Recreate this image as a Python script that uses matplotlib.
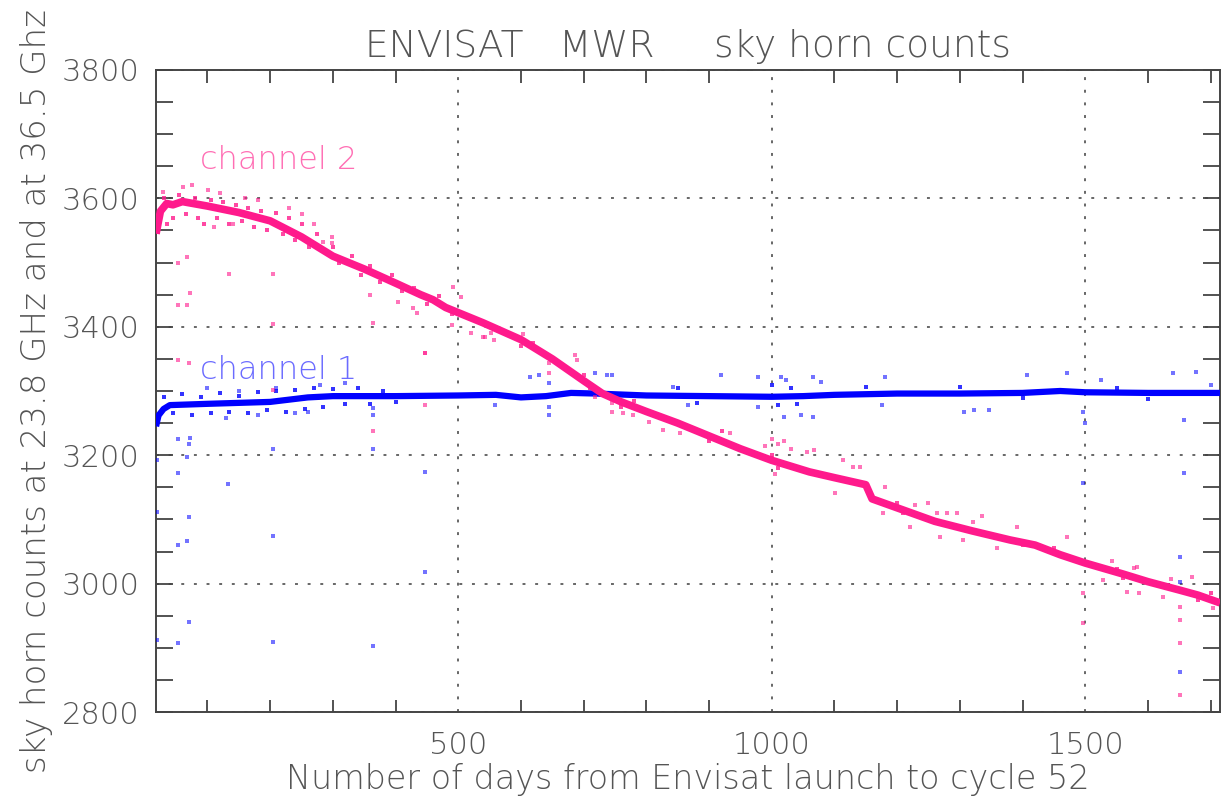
import matplotlib
matplotlib.use("Agg")
import matplotlib.pyplot as plt
import numpy as np

# channel 2 (36.5 GHz) main trace
ch2_days = [18, 25, 35, 45, 60, 100, 150, 200, 250, 300, 350, 400, 440, 460, 480,
            540, 600, 650, 700, 730, 760, 800, 850, 900, 950, 1000, 1060, 1100,
            1150, 1160, 1200, 1260, 1320, 1380, 1420, 1460, 1500, 1560, 1600,
            1650, 1680, 1715]
ch2_vals = [3545, 3580, 3592, 3590, 3595, 3588, 3578, 3565, 3540, 3510, 3490, 3468,
            3450, 3442, 3430, 3406, 3380, 3350, 3316, 3296, 3283, 3268, 3250, 3230,
            3210, 3192, 3174, 3165, 3154, 3132, 3118, 3097, 3082, 3068, 3060, 3045,
            3032, 3015, 3003, 2990, 2982, 2970]

# channel 1 (23.8 GHz) main trace
ch1_days = [18, 22, 30, 40, 100, 200, 260, 300, 400, 500, 560, 600, 640, 680, 720,
            800, 900, 1000, 1050, 1100, 1200, 1300, 1400, 1460, 1500, 1600, 1715]
ch1_vals = [3245, 3262, 3272, 3278, 3280, 3283, 3290, 3292, 3292, 3293, 3294, 3290,
            3292, 3297, 3296, 3293, 3292, 3291, 3292, 3294, 3296, 3296, 3297, 3300,
            3298, 3297, 3297]

# spread of points close to the traces
ch2_fuzz_days = [30, 35, 45, 55, 65, 80, 85, 95, 105, 115, 125, 135, 145, 155, 165, 175,
                 185, 195, 210, 220, 230, 240, 250, 262, 275, 285, 300, 310, 330, 345,
                 360, 375, 395, 410, 430, 450, 470, 490, 600, 620, 700, 710, 760, 780,
                 900, 920, 1000, 1010, 1200, 1210, 1400, 1450, 1550, 1560, 1680, 1700]
ch2_fuzz_vals = [3600, 3560, 3570, 3605, 3575, 3600, 3570, 3560, 3598, 3570, 3595, 3560,
                 3590, 3565, 3585, 3555, 3580, 3550, 3578, 3545, 3570, 3535, 3560, 3525,
                 3545, 3520, 3525, 3500, 3510, 3480, 3495, 3470, 3480, 3455, 3460, 3435,
                 3448, 3420, 3370, 3375, 3325, 3305, 3275, 3285, 3222, 3238, 3200, 3180,
                 3125, 3110, 3060, 3055, 3022, 3008, 2975, 2985]
ch1_fuzz_days = [30, 45, 60, 75, 90, 105, 120, 135, 150, 165, 180, 195, 210, 225, 240,
                 255, 270, 285, 300, 320, 340, 360, 380, 400, 850, 880, 1000, 1010, 1030,
                 1040, 1150, 1300, 1400, 1550, 1600]
ch1_fuzz_vals = [3290, 3265, 3295, 3262, 3290, 3265, 3297, 3268, 3292, 3265, 3298, 3270,
                 3300, 3268, 3302, 3272, 3305, 3275, 3303, 3280, 3305, 3280, 3300, 3283,
                 3305, 3282, 3310, 3278, 3305, 3280, 3306, 3306, 3289, 3305, 3288]

# scattered points away from the traces
ch2_out_days = [53, 70, 447, 364, 205, 447, 53, 67, 72, 53, 67, 135, 205, 205, 364, 447,
                492, 504, 299, 299, 285, 61, 75, 101, 120, 29, 360, 404, 428, 434, 490,
                540, 520, 552, 543, 557, 603, 645, 645, 686, 689, 694, 718, 745, 746,
                762, 778, 805, 826, 853, 933, 1057, 1067, 1114, 1130, 1141, 1181, 1250,
                1229, 1264, 1280, 1296, 1321, 1336, 1391, 1471, 1577, 1583, 1543, 1636,
                1101, 1178, 1221, 1269, 1305, 1360, 1529, 1567, 1585, 1624, 1704, 1497,
                1497, 1651, 1651, 1651, 1651, 1671, 160, 180, 230, 250, 270, 110, 140,
                1000, 1010, 1020, 1030, 990, 1005]
ch2_out_vals = [3348, 3344, 3359, 3238, 3302, 3278, 3499, 3509, 3453, 3434, 3434, 3482,
                3482, 3404, 3406, 3359, 3462, 3446, 3540, 3530, 3532, 3618, 3621, 3613,
                3608, 3610, 3449, 3438, 3429, 3421, 3403, 3384, 3390, 3390, 3384, 3379,
                3389, 3344, 3328, 3356, 3348, 3322, 3291, 3281, 3267, 3266, 3263, 3252,
                3239, 3235, 3235, 3205, 3208, 3193, 3182, 3182, 3150, 3125, 3122, 3110,
                3110, 3110, 3096, 3105, 3088, 3073, 3024, 3026, 3035, 3007, 3141, 3110,
                3088, 3073, 3068, 3055, 3006, 2987, 2985, 2979, 2962, 2939, 2985, 2943,
                2907, 2826, 2964, 3010, 3600, 3598, 3585, 3575, 3560, 3555, 3560, 3225,
                3218, 3222, 3210, 3215, 3170]

ch1_out_days = [53, 72, 70, 67, 53, 133, 70, 53, 67, 205, 70, 53, 205, 364, 205, 364, 364,
                364, 447, 447, 19, 19, 19, 615, 628, 645, 645, 645, 718, 737, 745, 558,
                843, 866, 919, 978, 1015, 1023, 1020, 1047, 1066, 1066, 978, 1078, 1181,
                1176, 1306, 1322, 1346, 1407, 1471, 1497, 1500, 1497, 1525, 1640, 1676,
                1657, 1657, 1700, 1651, 1651, 1651, 100, 150, 180, 240, 280, 320, 130,
                210, 260]
ch1_out_vals = [3225, 3227, 3217, 3197, 3172, 3155, 3104, 3060, 3066, 3074, 2940, 2907,
                2909, 2903, 3210, 3210, 3263, 3273, 3174, 3018, 3112, 2912, 3193, 3322,
                3325, 3312, 3275, 3263, 3328, 3325, 3325, 3278, 3306, 3278, 3325, 3322,
                3322, 3317, 3260, 3263, 3322, 3260, 3275, 3314, 3322, 3278, 3267, 3270,
                3270, 3325, 3328, 3267, 3250, 3157, 3317, 3328, 3330, 3255, 3172, 3309,
                3041, 3003, 2862, 3305, 3300, 3262, 3265, 3310, 3312, 3258, 3305, 3268]

labels_days = [88, 88]
labels_vals = [3660, 3333]

pink = "#ff1a8c"
blue = "#0000ff"
txt = "#555555"

plt.rcParams['font.family'] = ['DejaVu Sans']
plt.rcParams['font.weight'] = 'light'
plt.rcParams['axes.titleweight'] = 'light'
plt.rcParams['axes.labelweight'] = 'light'
fig = plt.figure(figsize=(12.22, 8.07), dpi=100)
ax = fig.add_axes([0.1277, 0.1177, 0.8707, 0.7956])

ax.plot(ch1_days, ch1_vals, color=blue, lw=4.5, solid_capstyle='butt', zorder=3)
ax.scatter(ch1_fuzz_days, ch1_fuzz_vals, s=9, marker='s', color=blue, alpha=0.8,
           linewidths=0, zorder=3)
ax.scatter(ch1_out_days, ch1_out_vals, s=5, marker='s', color=blue, alpha=0.55,
           linewidths=0, zorder=3)
ax.plot(ch2_days, ch2_vals, color=pink, lw=5.5, solid_capstyle='butt', zorder=4)
ax.scatter(ch2_fuzz_days, ch2_fuzz_vals, s=9, marker='s', color=pink, alpha=0.8,
           linewidths=0, zorder=4)
ax.scatter(ch2_out_days, ch2_out_vals, s=5, marker='s', color=pink, alpha=0.6,
           linewidths=0, zorder=4)

ax.text(labels_days[0], labels_vals[0], "channel 2", color="#ff6eb4", fontsize=23,
        va='center', ha='left')
ax.text(labels_days[1], labels_vals[1], "channel 1", color="#6b6bff", fontsize=23,
        va='center', ha='left')

ax.set_xlim(18, 1715)
ax.set_ylim(2800, 3800)
ax.set_xticks([500, 1000, 1500])
ax.set_xticks(np.arange(100, 1800, 100), minor=True)
ax.set_yticks(np.arange(2800, 3801, 200))
ax.set_yticks(np.arange(2800, 3801, 50), minor=True)
ax.tick_params(which='both', direction='in', top=True, right=True, color="#444444",
               labelcolor=txt, labelsize=22)
ax.tick_params(axis='y', which='both', length=12, width=1.3, pad=12)
ax.tick_params(axis='x', which='both', length=9, width=1.3, pad=14)
ax.tick_params(axis='x', which='major', length=0)
for s in ax.spines.values():
    s.set_color("#444444")
    s.set_linewidth(1.4)
ax.grid(True, which='major', color="#666666", linestyle=(0, (1.5, 5)), lw=1.4)

ax.set_title("ENVISAT   MWR     sky horn counts", color=txt, fontsize=27, pad=9)
ax.set_xlabel("Number of days from Envisat launch to cycle 52", color=txt, fontsize=24,
              labelpad=2)
ax.set_ylabel("sky horn counts at 23.8 GHz and at 36.5 Ghz", color=txt, fontsize=24.5,
              labelpad=6)

fig.savefig("out.png", dpi=100)
